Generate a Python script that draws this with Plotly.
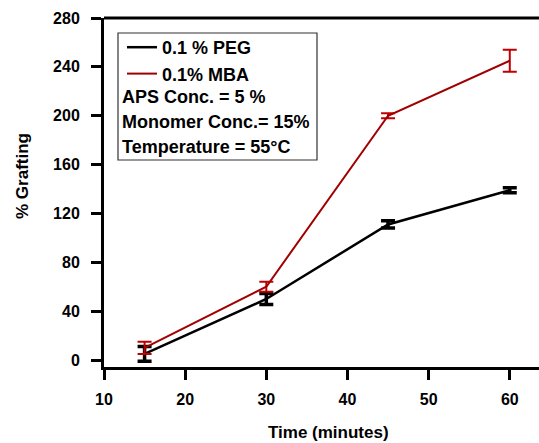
import plotly.graph_objects as go

time_min = [15, 30, 45, 60]
peg = [5, 50, 111, 139]
peg_err = [6, 4.5, 3, 2]
mba = [10, 60, 200, 245]
mba_err = [5, 4, 2, 9]

x_ticks = [10, 20, 30, 40, 50, 60]
y_ticks = [0, 40, 80, 120, 160, 200, 240, 280]

W, H = 539, 443
L, R, T, B = 104, 0, 18, 76
pw, ph = W - L - R, H - T - B


def px_x(px):
    return (px - L) / pw


def px_y(py):
    return (H - B - py) / ph


FONT = "Liberation Sans, Arial, sans-serif"

fig = go.Figure()
fig.add_trace(go.Scatter(
    x=time_min, y=peg, mode="lines", name="<b>0.1 % PEG</b>",
    line=dict(color="black", width=2.5),
    error_y=dict(type="data", array=peg_err, visible=True, color="black",
                 thickness=3.5, width=7),
    legendgroup="a",
))
fig.add_trace(go.Scatter(
    x=time_min, y=mba, mode="lines", name="<b>0.1% MBA</b>",
    line=dict(color="#A00000", width=2),
    error_y=dict(type="data", array=mba_err, visible=True, color="#C00000",
                 thickness=2, width=7),
    legendgroup="b",
))

axis_common = dict(
    showline=True, linecolor="black", linewidth=3,
    ticks="outside", ticklen=10, tickwidth=3, tickcolor="black",
    showgrid=False, zeroline=False,
    tickfont=dict(family=FONT, size=16, color="black", weight="bold"),
)

fig.update_layout(
    width=W, height=H,
    margin=dict(l=L, r=R, t=T, b=B),
    paper_bgcolor="white", plot_bgcolor="white",
    font=dict(family=FONT, color="black"),
    xaxis=dict(range=[10, 63.6], tickvals=x_ticks, ticklabelstandoff=6,
               **axis_common),
    yaxis=dict(range=[-5.7, 280], tickvals=y_ticks, ticklabelstandoff=8,
               **axis_common),
    showlegend=True,
    legend=dict(
        x=px_x(122), y=px_y(29), xanchor="left", yanchor="top",
        bgcolor="rgba(0,0,0,0)", borderwidth=0,
        font=dict(family=FONT, size=18, color="black"),
        tracegroupgap=0, traceorder="grouped",
    ),
    shapes=[
        dict(type="line", xref="paper", yref="paper", x0=0, x1=1, y0=1, y1=1,
             line=dict(color="black", width=3)),
        dict(type="rect", xref="paper", yref="paper",
             x0=px_x(118), x1=px_x(317), y0=px_y(160), y1=px_y(33),
             line=dict(color="#333333", width=1.2)),
    ],
    annotations=[
        dict(text="<b>APS Conc. = 5 %</b>", xref="paper", yref="paper",
             x=px_x(120), y=px_y(97), xanchor="left", yanchor="middle",
             showarrow=False, font=dict(family=FONT, size=18, color="black")),
        dict(text="<b>Monomer Conc.= 15%</b>", xref="paper", yref="paper",
             x=px_x(120), y=px_y(122), xanchor="left", yanchor="middle",
             showarrow=False, font=dict(family=FONT, size=18, color="black")),
        dict(text="<b>Temperature = 55°C</b>", xref="paper", yref="paper",
             x=px_x(120), y=px_y(147), xanchor="left", yanchor="middle",
             showarrow=False, font=dict(family=FONT, size=18, color="black")),
        dict(text="<b>Time (minutes)</b>", xref="paper", yref="paper",
             x=px_x(328), y=px_y(432), xanchor="center", yanchor="middle",
             showarrow=False, font=dict(family=FONT, size=17, color="black")),
        dict(text="<b>% Grafting</b>", xref="paper", yref="paper",
             x=px_x(22), y=px_y(176), xanchor="center", yanchor="middle",
             textangle=-90,
             showarrow=False, font=dict(family=FONT, size=17, color="black")),
    ],
)

fig.write_html(
    "out.html",
    config={"displayModeBar": False},
    post_script="document.body.style.margin='0';document.body.style.overflow='hidden';",
)
